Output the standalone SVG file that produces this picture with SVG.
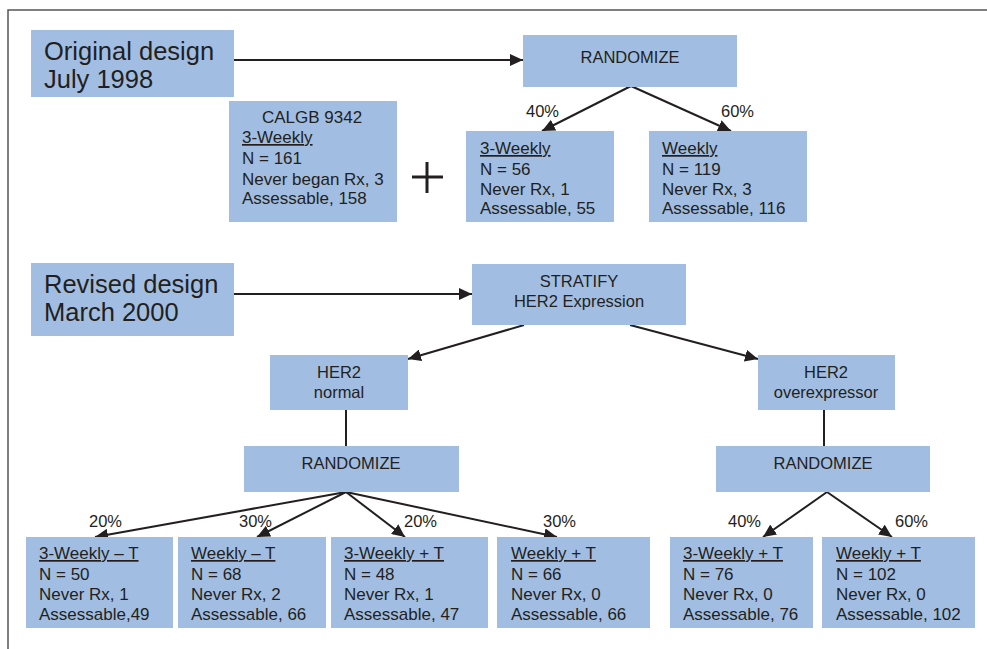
<svg xmlns="http://www.w3.org/2000/svg" width="987" height="649" viewBox="0 0 987 649">
<defs>
<marker id="ah" markerUnits="userSpaceOnUse" markerWidth="14" markerHeight="12" refX="13" refY="6" orient="auto">
<path d="M0,0 L13,6 L0,12 Z" fill="#231f20"/>
</marker>
<style>
.box{fill:#a1bee2}
text{font-family:"Liberation Sans",Arial,sans-serif;fill:#231f20}
.big{font-size:25.5px}
.b{font-size:17px}
.s{font-size:16.5px}
.c{text-anchor:middle}
.u{text-decoration:underline}
.ln{stroke:#231f20;stroke-width:2;fill:none}
</style>
</defs>
<path d="M8,649 L8,10 L987,10" fill="none" stroke="#555" stroke-width="1.5"/>

<g id="connectors">
<line class="ln" x1="234" y1="60" x2="523" y2="60" marker-end="url(#ah)"/>
<line class="ln" x1="631" y1="86" x2="542" y2="131" marker-end="url(#ah)"/>
<line class="ln" x1="631" y1="86" x2="731" y2="131" marker-end="url(#ah)"/>
<line class="ln" x1="234" y1="294" x2="472" y2="294" marker-end="url(#ah)"/>
<line class="ln" x1="524" y1="325" x2="408" y2="359" marker-end="url(#ah)"/>
<line class="ln" x1="630" y1="325" x2="758" y2="359" marker-end="url(#ah)"/>
<line class="ln" x1="346" y1="410" x2="346" y2="446"/>
<line class="ln" x1="824" y1="410" x2="824" y2="446"/>
<line class="ln" x1="346" y1="492" x2="95" y2="537" marker-end="url(#ah)"/>
<line class="ln" x1="346" y1="492" x2="257" y2="537" marker-end="url(#ah)"/>
<line class="ln" x1="346" y1="492" x2="405" y2="537" marker-end="url(#ah)"/>
<line class="ln" x1="346" y1="492" x2="557" y2="537" marker-end="url(#ah)"/>
<line class="ln" x1="827" y1="492" x2="763" y2="537" marker-end="url(#ah)"/>
<line class="ln" x1="827" y1="492" x2="892" y2="537" marker-end="url(#ah)"/>
</g>

<g id="labels">
<text class="s" x="526" y="117">40%</text>
<text class="s" x="721" y="117">60%</text>
<text class="s" x="89" y="527">20%</text>
<text class="s" x="239" y="527">30%</text>
<text class="s" x="404" y="527">20%</text>
<text class="s" x="543" y="527">30%</text>
<text class="s" x="728" y="527">40%</text>
<text class="s" x="895" y="527">60%</text>
</g>

<g id="original">
<rect class="box" x="31" y="30" width="203" height="67"/>
<text class="big" x="44" y="60">Original design</text>
<text class="big" x="44" y="88">July 1998</text>
</g>

<g id="randomize1">
<rect class="box" x="523" y="35" width="214" height="52"/>
<text class="s c" x="630" y="63">RANDOMIZE</text>
</g>

<g id="calgb">
<rect class="box" x="229" y="101" width="168" height="121"/>
<text class="b c" x="312" y="123">CALGB 9342</text>
<text class="b u" x="242" y="143">3-Weekly</text>
<text class="b" x="242" y="164">N = 161</text>
<text class="b" x="242" y="185">Never began Rx, 3</text>
<text class="b" x="242" y="204">Assessable, 158</text>
</g>

<g id="plus">
<line x1="412" y1="177" x2="443" y2="177" stroke="#231f20" stroke-width="3"/>
<line x1="427" y1="162" x2="427" y2="193" stroke="#231f20" stroke-width="3"/>
</g>

<g id="threeweekly1">
<rect class="box" x="466" y="131" width="148" height="91"/>
<text class="b u" x="480" y="154">3-Weekly</text>
<text class="b" x="480" y="175">N = 56</text>
<text class="b" x="480" y="195">Never Rx, 1</text>
<text class="b" x="480" y="214">Assessable, 55</text>
</g>

<g id="weekly1">
<rect class="box" x="649" y="131" width="158" height="91"/>
<text class="b u" x="662" y="154">Weekly</text>
<text class="b" x="662" y="175">N = 119</text>
<text class="b" x="662" y="195">Never Rx, 3</text>
<text class="b" x="662" y="214">Assessable, 116</text>
</g>

<g id="revised">
<rect class="box" x="31" y="263" width="203" height="73"/>
<text class="big" x="44" y="293">Revised design</text>
<text class="big" x="44" y="321">March 2000</text>
</g>

<g id="stratify">
<rect class="box" x="472" y="264" width="214" height="61"/>
<text class="s c" x="579" y="287">STRATIFY</text>
<text class="s c" x="579" y="307">HER2 Expression</text>
</g>

<g id="her2normal">
<rect class="box" x="270" y="355" width="138" height="55"/>
<text class="s c" x="339" y="378">HER2</text>
<text class="s c" x="339" y="398">normal</text>
</g>

<g id="her2over">
<rect class="box" x="758" y="355" width="137" height="55"/>
<text class="s c" x="826" y="378">HER2</text>
<text class="s c" x="826" y="398">overexpressor</text>
</g>

<g id="randomize2">
<rect class="box" x="244" y="446" width="215" height="46"/>
<text class="s c" x="351" y="469">RANDOMIZE</text>
</g>

<g id="randomize3">
<rect class="box" x="716" y="446" width="214" height="46"/>
<text class="s c" x="823" y="469">RANDOMIZE</text>
</g>

<g id="arm1">
<rect class="box" x="26" y="537" width="147" height="91"/>
<text class="b u" x="39" y="559">3-Weekly – T</text>
<text class="b" x="39" y="580">N = 50</text>
<text class="b" x="39" y="600">Never Rx, 1</text>
<text class="b" x="39" y="620">Assessable,49</text>
</g>

<g id="arm2">
<rect class="box" x="178" y="537" width="148" height="91"/>
<text class="b u" x="191" y="559">Weekly – T</text>
<text class="b" x="191" y="580">N = 68</text>
<text class="b" x="191" y="600">Never Rx, 2</text>
<text class="b" x="191" y="620">Assessable, 66</text>
</g>

<g id="arm3">
<rect class="box" x="331" y="537" width="157" height="91"/>
<text class="b u" x="344" y="559">3-Weekly + T</text>
<text class="b" x="344" y="580">N = 48</text>
<text class="b" x="344" y="600">Never Rx, 1</text>
<text class="b" x="344" y="620">Assessable, 47</text>
</g>

<g id="arm4">
<rect class="box" x="497" y="537" width="153" height="91"/>
<text class="b u" x="511" y="559">Weekly + T</text>
<text class="b" x="511" y="580">N = 66</text>
<text class="b" x="511" y="600">Never Rx, 0</text>
<text class="b" x="511" y="620">Assessable, 66</text>
</g>

<g id="arm5">
<rect class="box" x="670" y="537" width="143" height="91"/>
<text class="b u" x="683" y="559">3-Weekly + T</text>
<text class="b" x="683" y="580">N = 76</text>
<text class="b" x="683" y="600">Never Rx, 0</text>
<text class="b" x="683" y="620">Assessable, 76</text>
</g>

<g id="arm6">
<rect class="box" x="822" y="537" width="153" height="91"/>
<text class="b u" x="836" y="559">Weekly + T</text>
<text class="b" x="836" y="580">N = 102</text>
<text class="b" x="836" y="600">Never Rx, 0</text>
<text class="b" x="836" y="620">Assessable, 102</text>
</g>
</svg>
